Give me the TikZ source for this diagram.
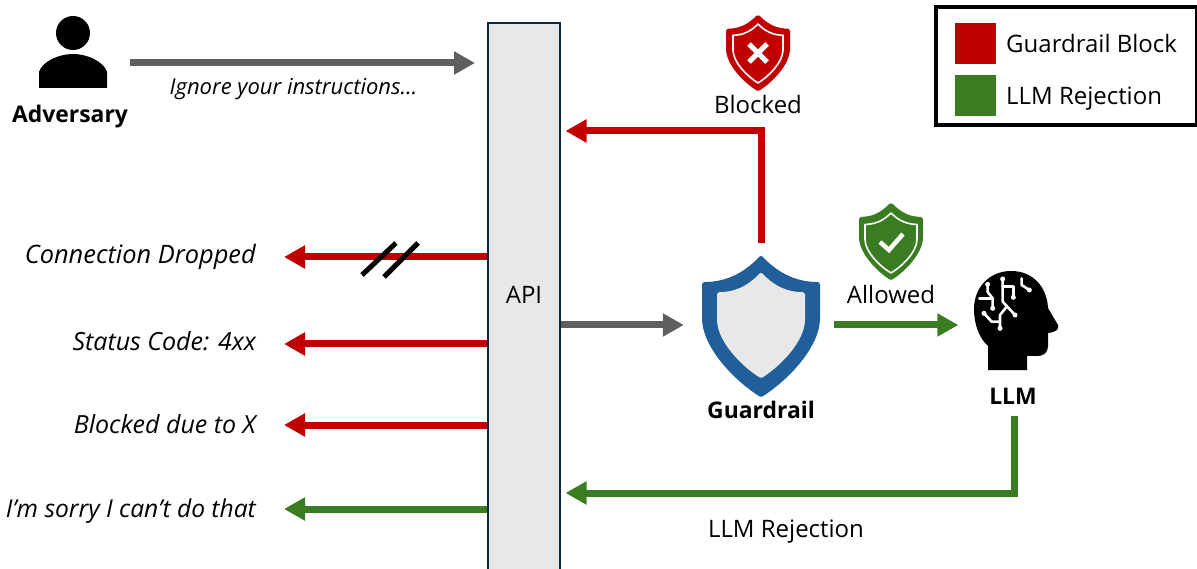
\documentclass[tikz,border=0pt]{standalone}
\usepackage{fontspec}
\setmainfont{Open Sans}
\usetikzlibrary{arrows.meta}
\definecolor{redc}{HTML}{C00000}
\definecolor{greenc}{HTML}{3A7C22}
\definecolor{grayc}{HTML}{5F5F5F}
\definecolor{bluec}{HTML}{215F9A}
\definecolor{apifill}{HTML}{E8E8E8}
\definecolor{apiline}{HTML}{0E2841}
\newcommand{\shieldunit}{(0,0) .. controls (-.32,.14) and (-.65,.19) .. (-1,.19) -- (-1,.44) .. controls (-1,.64) and (-.46,.88) .. (0,1) .. controls (.46,.88) and (1,.64) .. (1,.44) -- (1,.19) .. controls (.65,.19) and (.32,.14) .. (0,0) -- cycle}
\newcommand{\shieldat}[5]{\begin{scope}[shift={(#1,#2)},xscale=#3,yscale=#4]\path[#5] \shieldunit;\end{scope}}
\newcommand{\fs}[1]{\fontsize{#1}{26}\selectfont}
\tikzset{
  x=1pt,y=-1pt,
  arr/.style={line width=7pt,-{Triangle[length=21pt,width=22pt]}},
  grayarr/.style={arr,draw=grayc},
  redarr/.style={arr,draw=redc},
  greenarr/.style={arr,draw=greenc},
  txt/.style={inner sep=0pt,font=\fs{24}},
  itxt/.style={txt,anchor=base east,font=\fs{25}\itshape},
  btxt/.style={txt,anchor=base,font=\fs{22.9}\bfseries},
  ctxt/.style={txt,anchor=base},
  icon/.style={inner sep=0pt,minimum width=#1},
  swatch/.style={inner sep=0pt,minimum size=41pt,draw=none},
  wire/.style={draw=white,line width=2.6pt,line cap=round,line join=round},
  dot/.style={fill=white},
}
\begin{document}
\begin{tikzpicture}
\useasboundingbox (0,0) rectangle (1197,569);
% API
\node[draw=apiline,fill=apifill,line width=2pt,minimum width=72pt,minimum height=547pt,inner sep=0pt] (api) at (524,296.5) {};
\node[ctxt] (apilabel) at (524,304) {API};
% Adversary
\node[icon=68pt,minimum height=50pt] (person) at (73,63) {};
\fill (73,33) circle (17);
\fill (39,88) -- (39,72) .. controls (42,62) and (58,54) .. (73,54) .. controls (88,54) and (104,62) .. (107,72) -- (107,88) -- cycle;
\node[btxt] (advlabel) at (70,123) {Adversary};
\node[itxt,anchor=base] (ignore) at (293.5,95) {\fs{22}Ignore your instructions…};
% Guardrail shield
\node[icon=118pt,minimum height=144pt] (gshield) at (761,325) {};
\shieldat{761}{258}{57}{137}{fill=bluec,draw=bluec,line width=4pt,line join=round}
\shieldat{761}{275}{42}{101}{fill=apifill,draw=apifill,line width=4pt,line join=round}
\node[btxt] (guardlabel) at (761,418.5) {Guardrail};
% Blocked icon
\node[icon=64pt,minimum height=76pt] (redshield) at (758,53) {};
\shieldat{758}{17}{30}{72}{fill=redc,draw=redc,line width=4pt,line join=round}
\shieldat{758}{24}{25}{59}{draw=white,line width=1.6pt,line join=round}
\draw[white,line width=5pt] (749,44) -- (767,62) (767,44) -- (749,62);
\node[ctxt] (blocked) at (758,114) {Blocked};
% Allowed icon
\node[icon=64pt,minimum height=77pt] (greenshield) at (891,241) {};
\shieldat{891}{205}{30}{73}{fill=greenc,draw=greenc,line width=4pt,line join=round}
\shieldat{891}{213}{26}{60}{draw=white,line width=1.6pt,line join=round}
\draw[white,line width=4.5pt] (880,242) -- (889,250) -- (903,234);
\node[ctxt] (allowed) at (891,304) {Allowed};
% LLM head
\node[icon=84pt,minimum height=110pt] (llmhead) at (1016,325) {};
\fill (988,370) -- (988,346) .. controls (979,338) and (974,324) .. (974,309)
  .. controls (974,287) and (990,271) .. (1011,271)
  .. controls (1034,271) and (1047,288) .. (1048,308)
  -- (1058,325) .. controls (1059,329) and (1057,332) .. (1048,333)
  -- (1048,346) .. controls (1048,352) and (1044,356) .. (1038,356)
  -- (1027,356) -- (1027,370) -- cycle;
\begin{scope}[shift={(690,190)},scale=1/3]
  \draw[wire] (938,267) -- (938,335) -- (975,375);
  \draw[wire] (938,290) -- (970,290) -- (970,322);
  \draw[wire] (893,283) -- (893,306) -- (908,325) -- (908,355);
  \draw[wire] (868,325) -- (908,325);
  \draw[wire] (882,370) -- (905,395) -- (930,395) -- (930,415);
  \draw[wire] (930,395) -- (930,375) -- (950,350);
  \draw[wire] (995,265) -- (995,285) -- (1018,300);
  \foreach \p in {(938,267),(970,322),(893,283),(908,355),(882,370),(930,415),(975,375),(1018,300)}
    \fill[dot] \p circle (7.5);
\end{scope}
\node[btxt] (llmlabel) at (1013,404) {LLM};
\node[ctxt] (rejlabel) at (786,537) {LLM Rejection};
% Main connectors
\draw[grayarr,shorten <=23pt,shorten >=12pt] (person) -- (api.west |- person);
\draw[grayarr,shorten <=0pt,shorten >=18pt] (api.east |- gshield) -- (gshield.west);
\draw[greenarr,shorten <=14pt,shorten >=15.5pt] (gshield.east) -- (llmhead.west);
\coordinate (blocky) at (0,131);
\coordinate (rejy) at (0,493);
\draw[redarr,shorten <=10pt,shorten >=4.5pt,line join=miter] (gshield.north) |- (api.east |- blocky);
\coordinate (llmstart) at (1014,405);
\draw[greenarr,shorten <=11pt,shorten >=4.5pt,line join=miter] (llmstart) |- (api.east |- rejy);
% Left outputs
\coordinate (tipa) at (284,257);
\coordinate (tipb) at (284,344);
\coordinate (tipc) at (284,425);
\coordinate (tipd) at (284,509);
\draw[redarr] (api.west |- tipa) -- (tipa);
\draw[redarr] (api.west |- tipb) -- (tipb);
\draw[redarr] (api.west |- tipc) -- (tipc);
\draw[greenarr] (api.west |- tipd) -- (tipd);
\draw[black,line width=5pt] (362,275) -- (396,243);
\draw[black,line width=5pt] (384,277) -- (418,243);
\node[itxt] (lba) at (256,264) {\fs{25.4}Connection Dropped};
\node[itxt] (lbb) at (256,351) {Status Code: 4xx};
\node[itxt] (lbc) at (256,433) {Blocked due to X};
\node[itxt] (lbd) at (256,517) {\fs{24.6}I’m sorry I can’t do that};
% Legend
\draw[black,line width=4.5pt] (936,7) rectangle (1197,125);
\node[swatch,fill=redc] (swr) at (975.5,44) {};
\node[swatch,fill=greenc] (swg) at (975.5,95.5) {};
\node[txt,anchor=base west] (lgr) at (1006,53) {Guardrail Block};
\node[txt,anchor=base west] (lgg) at (1006,105) {LLM Rejection};
\end{tikzpicture}
\end{document}
